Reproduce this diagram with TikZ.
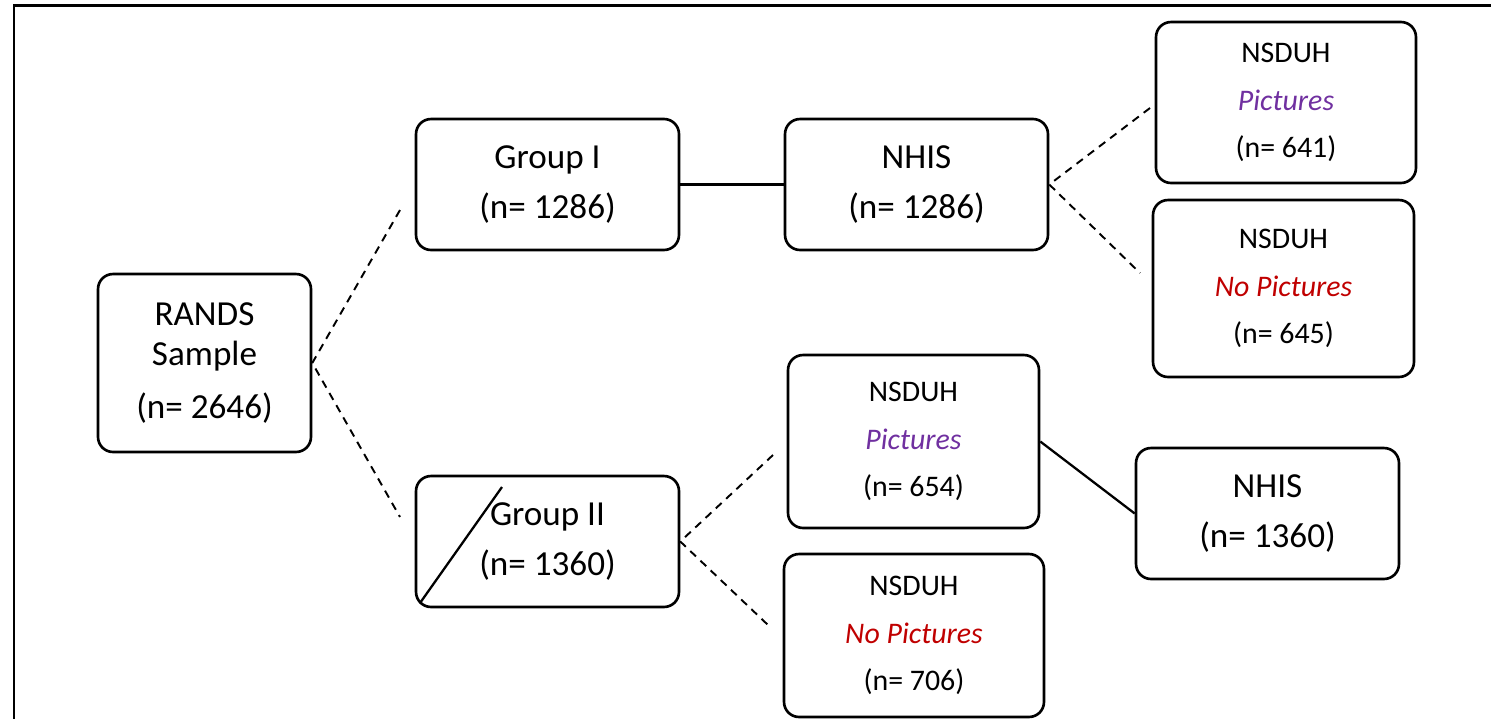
\documentclass[tikz,border=0pt]{standalone}
\usepackage{fontspec}
\setmainfont{Carlito}
\definecolor{picpurple}{HTML}{7030A0}
\definecolor{nopicred}{HTML}{C00000}
\begin{document}
\begin{tikzpicture}[x=0.02cm, y=-0.02cm,
    box/.style={draw, line width=1.5pt, rounded corners=0.3cm, align=center, inner sep=0pt},
    bigbox/.style={box, font=\fontsize{20}{28.5}\selectfont, minimum width=5.26cm, minimum height=2.62cm},
    smallbox/.style={box, font=\fontsize{17}{27}\selectfont},
    dashline/.style={line width=1.1pt, dash pattern=on 4.5pt off 3.5pt},
    solidline/.style={line width=1.3pt}]

    \useasboundingbox (0,0) rectangle (1491,718);
    % frame
    \draw[line width=1.7pt] (1495,5) -- (14,5) -- (14,722);

    % left part
    \node[box, font=\fontsize{20}{23}\selectfont, minimum width=4.26cm, minimum height=3.56cm]
      (rands) at (204.5,363) {RANDS\\Sample\\[7pt](n= 2646)};
    \node[bigbox] (grpI) at (547.5,184.5) {Group I\\(n= 1286)};
    \node[bigbox] (grpII) at (547.5,541.5) {Group II\\(n= 1360)};
    \draw[solidline] (420,603) -- (502,487);

    % group I branch
    \node[bigbox] (nhisA) at (916.5,184.5) {NHIS\\(n= 1286)};
    \node[smallbox, minimum width=5.2cm, minimum height=3.22cm] (picA) at (1286,102.5)
      {NSDUH\\{\color{picpurple}\itshape Pictures}\\(n= 641)};
    \node[smallbox, minimum width=5.22cm, minimum height=3.54cm] (nopicA) at (1283.5,288.5)
      {NSDUH\\{\color{nopicred}\itshape No Pictures}\\(n= 645)};

    % group II branch
    \node[smallbox, minimum width=5.02cm, minimum height=3.46cm] (picB) at (913.5,441.5)
      {NSDUH\\{\color{picpurple}\itshape Pictures}\\(n= 654)};
    \node[smallbox, minimum width=5.2cm, minimum height=3.26cm] (nopicB) at (914,635.5)
      {NSDUH\\{\color{nopicred}\itshape No Pictures}\\(n= 706)};
    \node[bigbox] (nhisB) at (1267.5,513.5) {NHIS\\(n= 1360)};

    % loose ends of the dashed lines
    \coordinate (toI) at (400,210);
    \coordinate (toII) at (400,517);
    \coordinate (toPicA) at (1150,108);
    \coordinate (toNopicA) at (1140,273);
    \coordinate (toPicB) at (773,455);
    \coordinate (toNopicB) at (768,625);

    \draw[dashline] (toI) -- (rands.east) -- (toII);
    \draw[dashline] (toPicA) -- (nhisA.east) -- (toNopicA);
    \draw[dashline] (toPicB) -- (grpII.east) -- (toNopicB);

    \draw[solidline] (grpI.east) -- (nhisA.west);
    \draw[solidline] (picB.east) -- (nhisB.west);

\end{tikzpicture}
\end{document}
